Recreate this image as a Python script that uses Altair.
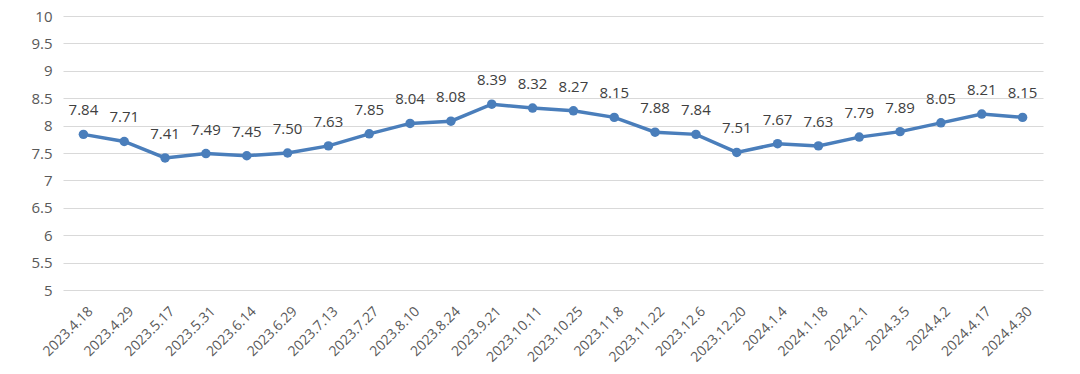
import altair as alt
import pandas as pd

dates = ["2023.4.18", "2023.4.29", "2023.5.17", "2023.5.31", "2023.6.14", "2023.6.29",
         "2023.7.13", "2023.7.27", "2023.8.10", "2023.8.24", "2023.9.21", "2023.10.11",
         "2023.10.25", "2023.11.8", "2023.11.22", "2023.12.6", "2023.12.20", "2024.1.4",
         "2024.1.18", "2024.2.1", "2024.3.5", "2024.4.2", "2024.4.17", "2024.4.30"]
values = [7.84, 7.71, 7.41, 7.49, 7.45, 7.50, 7.63, 7.85, 8.04, 8.08, 8.39, 8.32,
          8.27, 8.15, 7.88, 7.84, 7.51, 7.67, 7.63, 7.79, 7.89, 8.05, 8.21, 8.15]
y_ticks = [5, 5.5, 6, 6.5, 7, 7.5, 8, 8.5, 9, 9.5, 10]

df = pd.DataFrame({"date": dates, "value": values})

FONT = "Open Sans"
LINE = "#4a7ebb"

x = alt.X("date:N", sort=dates, title=None,
          scale=alt.Scale(type="point", padding=0.5),
          axis=alt.Axis(labelAngle=-45, labelFontSize=14, labelColor="#595959",
                        labelFont=FONT, ticks=False, domain=False, grid=False,
                        labelPadding=14, labelOffset=2))
y = alt.Y("value:Q", title=None,
          scale=alt.Scale(domain=[5, 10], nice=False, zero=False),
          axis=alt.Axis(values=y_ticks, format="~g", labelFontSize=15, labelColor="#595959",
                        labelFont=FONT, ticks=False, domain=False,
                        gridColor="#d9d9d9", gridWidth=1, labelPadding=11))

base = alt.Chart(df).encode(x=x, y=y)
line = base.mark_line(color=LINE, strokeWidth=3.5)
pts = base.mark_point(filled=True, color=LINE, size=90, opacity=1)
txt = base.mark_text(dy=-24, fontSize=15, color="#404040", font=FONT).encode(
    text=alt.Text("value:Q", format=".2f"))

chart = (line + pts + txt).properties(
    width=980, height=274,
    autosize=alt.AutoSizeParams(type="none"),
    padding={"left": 55, "top": 8, "right": 29, "bottom": 80},
).configure_view(stroke=None)

chart.save("out.html", embed_options={"renderer": "svg", "actions": False})
